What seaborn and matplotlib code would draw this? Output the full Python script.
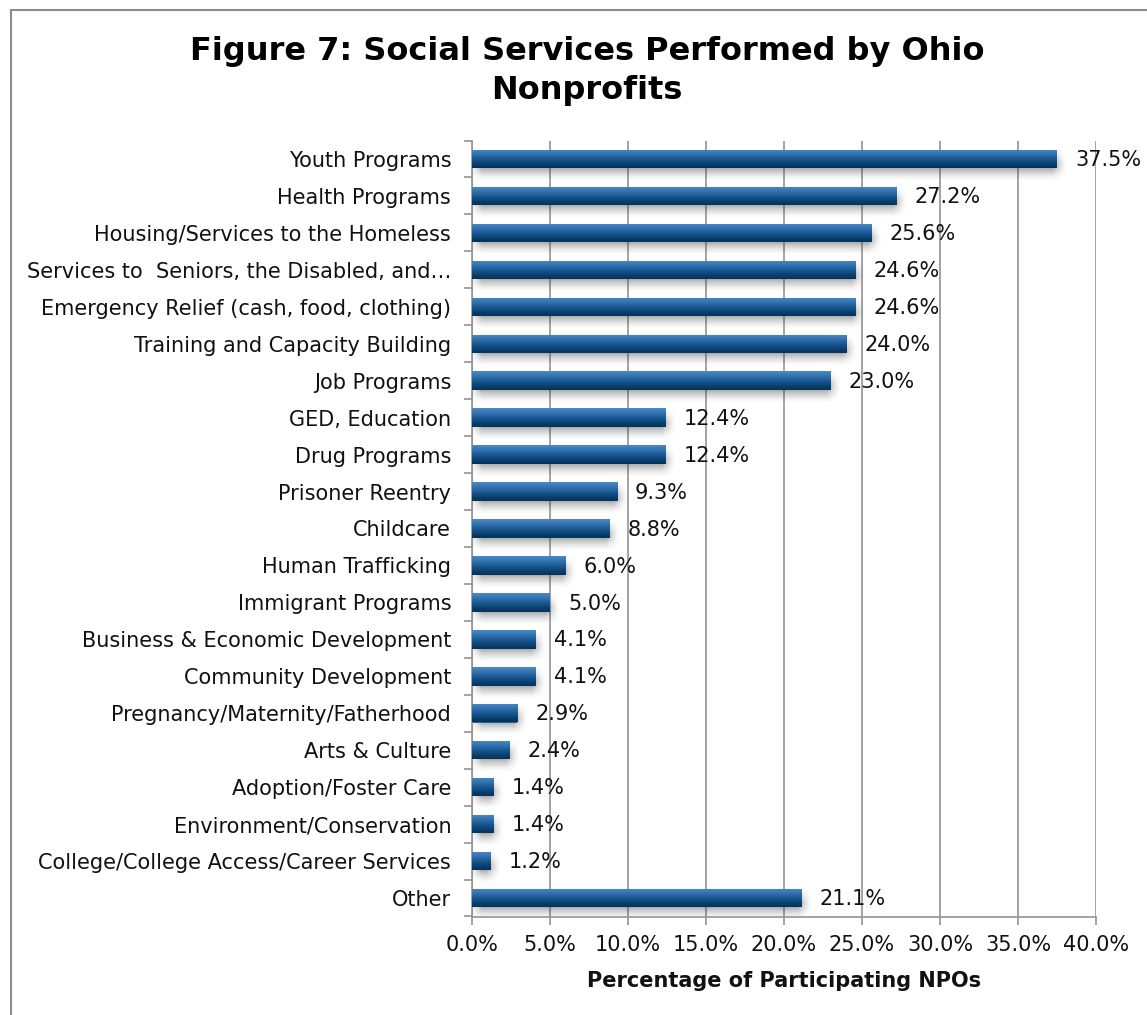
import numpy as np
import pandas as pd
import matplotlib
matplotlib.use("Agg")
import matplotlib.pyplot as plt
from matplotlib.patches import Rectangle
from matplotlib.colors import LinearSegmentedColormap
import seaborn as sns

services = [
    "Youth Programs",
    "Health Programs",
    "Housing/Services to the Homeless",
    "Services to  Seniors, the Disabled, and\u2026",
    "Emergency Relief (cash, food, clothing)",
    "Training and Capacity Building",
    "Job Programs",
    "GED, Education",
    "Drug Programs",
    "Prisoner Reentry",
    "Childcare",
    "Human Trafficking",
    "Immigrant Programs",
    "Business & Economic Development",
    "Community Development",
    "Pregnancy/Maternity/Fatherhood",
    "Arts & Culture",
    "Adoption/Foster Care",
    "Environment/Conservation",
    "College/College Access/Career Services",
    "Other",
]
percent = [37.5, 27.2, 25.6, 24.6, 24.6, 24.0, 23.0, 12.4, 12.4, 9.3, 8.8,
           6.0, 5.0, 4.1, 4.1, 2.9, 2.4, 1.4, 1.4, 1.2, 21.1]
x_ticks = [0, 5, 10, 15, 20, 25, 30, 35, 40]

df = pd.DataFrame({"service": services, "percent": percent})

sns.set_theme(style="white")
plt.rcParams["font.family"] = ["DejaVu Sans"]

W, H = 1147, 1015
fig = plt.figure(figsize=(W / 100, H / 100), dpi=100)
ax = fig.add_axes([472 / W, 1 - 916.5 / H, (1096 - 472) / W, (916.5 - 140.5) / H])

# pixel sizes of one data unit, used for shadow offsets
px_x = (1096 - 472) / 40.0
px_y = (916.5 - 140.5) / len(services)

grid_col = "#939393"
ax.set_axisbelow(True)
for t in x_ticks:
    ax.axvline(t, color=grid_col, lw=1.2, zorder=0)

sns.barplot(data=df, x="percent", y="service", orient="h", width=0.5,
            color="#1f5f9a", saturation=1, ax=ax, zorder=2)

grad_cmap = LinearSegmentedColormap.from_list(
    "bar", ["#4a88c6", "#3574b2", "#1b5a95", "#0c4474", "#05325a"])
grad = np.linspace(0, 1, 64).reshape(-1, 1)


def soft_shadow(x0, y0, w, h, dx=3, dy=6, blur=7, peak=0.5):
    """Blurred drop shadow behind a bar, offsets given in pixels."""
    bx, by = blur / px_x, blur / px_y
    sx0, sy0 = x0 + dx / px_x - bx, y0 + dy / px_y - by
    sw, sh = w + 2 * bx, h + 2 * by
    nx = max(int(sw * px_x), 4)
    ny = max(int(sh * px_y), 4)
    xs = (np.arange(nx) + 0.5) / nx * sw
    ys = (np.arange(ny) + 0.5) / ny * sh
    fx = np.clip(np.minimum(xs, sw - xs) / (2 * bx), 0, 1)
    fy = np.clip(np.minimum(ys, sh - ys) / (2 * by), 0, 1)
    alpha = peak * np.outer(fy ** 1.5, fx ** 1.5)
    rgba = np.zeros((ny, nx, 4))
    rgba[..., :3] = 0.25
    rgba[..., 3] = alpha
    ax.imshow(rgba, aspect="auto", extent=(sx0, sx0 + sw, sy0 + sh, sy0),
              origin="upper", zorder=1, interpolation="bilinear")


for p in ax.patches:
    x0, y0 = p.get_x(), p.get_y()
    w, h = p.get_width(), p.get_height()
    soft_shadow(x0, y0, w, h)
    p.set_edgecolor("none")
    img = ax.imshow(grad, cmap=grad_cmap, aspect="auto",
                    extent=(x0, x0 + w, y0 + h, y0), origin="upper",
                    zorder=3, interpolation="bilinear")
    img.set_clip_path(p)
    ax.text(x0 + w + 1.15, y0 + h / 2 + 0.03, f"{w:.1f}%", va="center", ha="left",
            fontsize=15, color="#111111", zorder=4, clip_on=False)

ax.set_xlim(0, 40)
ax.set_ylim(len(services) - 0.5, -0.5)
ax.set_xticks(x_ticks)
ax.set_xticklabels([f"{t:.1f}%" for t in x_ticks], fontsize=15, color="#111111")
ax.set_yticks(range(len(services)))
ax.set_yticklabels(services, fontsize=15, color="#111111")
ax.set_yticks(np.arange(-0.5, len(services), 1), minor=True)
ax.tick_params(axis="y", which="major", length=0, pad=15)
ax.tick_params(axis="y", which="minor", length=6, width=1.2, color=grid_col, left=True)
ax.tick_params(axis="x", which="major", length=6, width=1.2, color=grid_col,
               bottom=True, pad=7)

for s in ["top", "right"]:
    ax.spines[s].set_visible(False)
for s in ["left", "bottom"]:
    ax.spines[s].set_color(grid_col)
    ax.spines[s].set_linewidth(1.2)

ax.set_ylabel("")
ax.set_xlabel("Percentage of Participating NPOs", fontsize=15, fontweight="bold",
              color="#111111", labelpad=12)

fig.text(587 / W, 1 - 71 / H, "Figure 7: Social Services Performed by Ohio\nNonprofits",
         ha="center", va="center", fontsize=23, fontweight="bold",
         linespacing=1.3, color="#000000")

# outer chart frame
fig.patches.append(Rectangle((11 / W, -0.05), 1.2, 1 - 10 / H + 0.05,
                             transform=fig.transFigure, fill=False,
                             edgecolor="#8c8c8c", lw=1.5))

fig.savefig("out.png", dpi=100)
